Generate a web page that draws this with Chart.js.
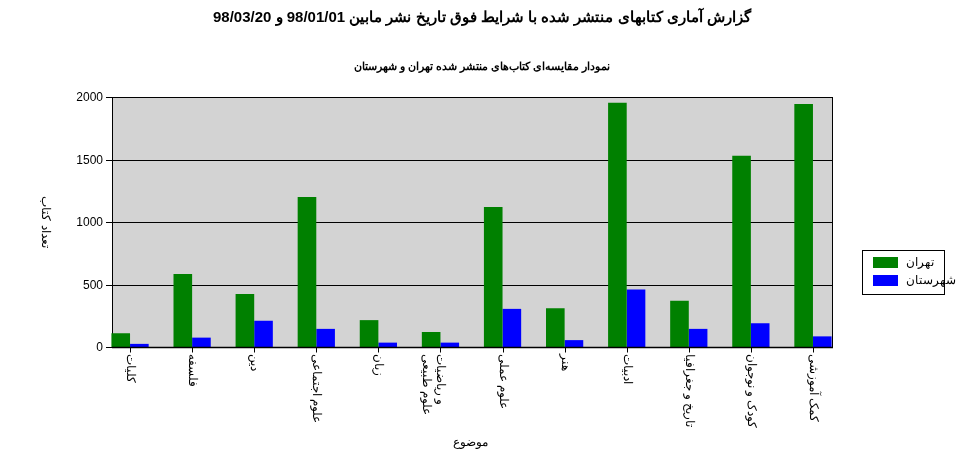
<!DOCTYPE html>
<html><head><meta charset="utf-8">
<script src="https://cdn.jsdelivr.net/npm/chart.js@4"></script>
<style>html,body{margin:0;padding:0;background:#fff}#w{width:964px;height:463px}</style>
</head><body><div id="w"><canvas id="c"></canvas></div>
<script>
const categories=["کلیات","فلسفه","دین","علوم اجتماعی","زبان",["علوم طبیعی","و ریاضیات"],"علوم عملی","هنر","ادبیات","تاریخ و جغرافیا","کودک و نوجوان","کمک آموزشی"];
const tehran=[110,585,425,1200,215,120,1120,310,1955,370,1530,1945];
const shahrestan=[25,75,210,145,35,35,305,55,460,145,190,85];
const yTicks=[0,500,1000,1500,2000];
const title="گزارش آماری کتابهای منتشر شده با شرایط فوق تاریخ نشر مابین 98/01/01 و 98/03/20";
const subtitle="نمودار مقایسه‌ای کتاب‌های منتشر شده تهران و شهرستان";
const FONT="'Liberation Sans', Arial, sans-serif";
const PL=112,PR=832;
const deco={id:'deco',
beforeDatasetsDraw(ch){const c=ch.ctx,y=ch.scales.y,x=ch.scales.x;const T=y.getPixelForValue(2000),B=y.getPixelForValue(0);
c.save();c.fillStyle='#d3d3d3';c.fillRect(PL,T,PR-PL,B-T);
c.strokeStyle='#000';c.lineWidth=1;c.font='12px '+FONT;c.fillStyle='#000';c.textAlign='right';c.textBaseline='middle';
yTicks.forEach(v=>{const p=Math.round(y.getPixelForValue(v))+0.5;c.beginPath();c.moveTo(PL-6,p);c.lineTo(PR,p);c.stroke();c.fillText(String(v),PL-9,p);});
c.beginPath();c.moveTo(PL+0.5,T);c.lineTo(PL+0.5,B);c.moveTo(PR+0.5,T);c.lineTo(PR+0.5,B);c.stroke();
c.restore();},
afterDatasetsDraw(ch){const c=ch.ctx,y=ch.scales.y,x=ch.scales.x;const B=Math.round(y.getPixelForValue(0))+0.5;
c.save();c.strokeStyle='#000';c.lineWidth=1.5;c.beginPath();c.moveTo(PL,B);c.lineTo(PR+1,B);c.stroke();c.lineWidth=1;
c.font='12px '+FONT;c.fillStyle='#000';
categories.forEach((lab,i)=>{const px=Math.round(x.getPixelForValue(i))+0.5;c.beginPath();c.moveTo(px,B);c.lineTo(px,B+5);c.stroke();
const lines=Array.isArray(lab)?lab:[lab];c.save();c.translate(px,B+6);c.rotate(Math.PI/2);c.textAlign='left';c.textBaseline='middle';
lines.forEach((l,k)=>{c.fillText(l,0,(k-(lines.length-1)/2)*-14*-1*(k===0?-1:1)*(lines.length>1?1:0)+ (lines.length>1?(k===0?7:-7):0));});c.restore();});
c.textAlign='center';c.textBaseline='middle';c.font='bold 15px '+FONT;c.fillText(title,482,18);
c.font='bold 11px '+FONT;c.fillText(subtitle,482,67);
c.font='12px '+FONT;c.fillText('موضوع',470,443);
c.save();c.translate(45,222);c.rotate(Math.PI/2);c.fillText('تعداد کتاب',0,0);c.restore();
c.strokeStyle='#000';c.strokeRect(862.5,250.5,82,44);
c.fillStyle='#008000';c.fillRect(873,257,25,11);c.fillStyle='#0000ff';c.fillRect(873,275,25,11);
c.fillStyle='#000';c.textAlign='left';c.fillText('تهران',906,263);c.fillText('شهرستان',906,281);
c.restore();}};
new Chart(document.getElementById('c'),{type:'bar',
data:{labels:categories,datasets:[{label:'تهران',data:tehran,backgroundColor:'#008000'},{label:'شهرستان',data:shahrestan,backgroundColor:'#0000ff'}]},
options:{responsive:true,maintainAspectRatio:false,animation:false,
layout:{padding:{top:97,right:120,left:0,bottom:0}},
datasets:{bar:{categoryPercentage:0.6,barPercentage:1}},
plugins:{legend:{display:false},tooltip:{enabled:false}},
scales:{x:{grid:{display:false},border:{display:false},ticks:{display:false},afterFit(s){s.height=116;}},
y:{min:0,max:2000,grid:{display:false},border:{display:false},ticks:{display:false,stepSize:500},afterFit(s){s.width=99;}}}},
plugins:[deco]});
</script></body></html>
